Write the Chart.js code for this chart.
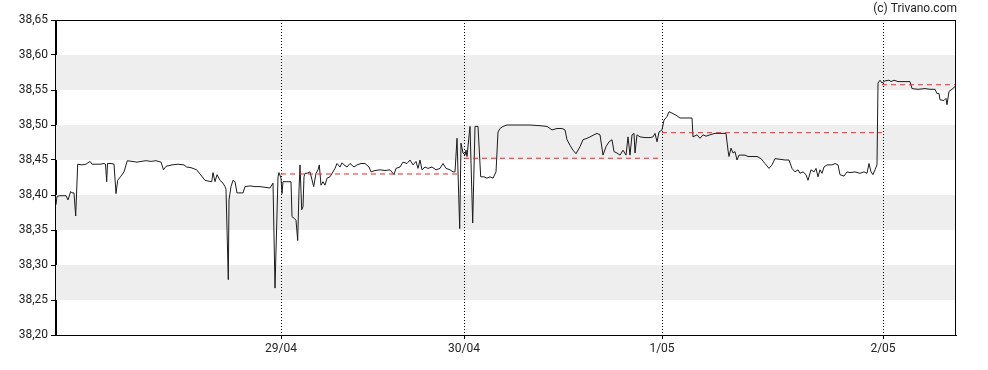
<!DOCTYPE html>
<html>
<head>
<meta charset="utf-8">
<script src="https://cdn.jsdelivr.net/npm/chart.js@4.4.1/dist/chart.umd.min.js"></script>
<style>
  html, body { margin: 0; padding: 0; background: #fff; }
  #wrap { width: 988px; height: 370px; }
</style>
</head>
<body>
<div id="wrap"><canvas id="chart" width="988" height="370"></canvas></div>
<script>
// position along the trading axis (sessions are not equally long)
const times = [
  0, 1, 4, 7, 10, 12, 14.7, 16, 18, 19.7, 21.7, 26, 30, 34, 36, 40, 44, 48, 49.5, 50.7, 51.5, 55, 58,
  60, 61.7, 65, 68, 71.3, 76, 81, 85, 90, 95, 100, 105, 107.5, 110, 116, 122, 128, 130.7, 135, 140.7,
  144, 149, 152, 155.7, 157, 159, 161, 164, 167, 169, 170, 172.3, 173, 175, 177, 179, 181, 187, 189,
  194, 199, 204, 209, 214, 217, 219, 219.7, 222, 223, 225, 226, 227, 229, 235, 236, 238, 240, 241.7,
  243, 244, 245.7, 247, 248, 249, 251, 254, 257.7, 260, 262, 263.3, 265, 267, 269, 271, 274, 279,
  281, 284, 286, 288, 291, 294, 298, 301, 305, 309, 313, 315, 319, 324, 329, 334, 338, 340, 344,
  347, 351, 354, 357, 360, 362, 364, 366, 369, 372, 376, 380, 384, 387, 390, 394, 397, 399, 401,
  403.7, 405, 407, 409, 410, 411, 414, 416.7, 419, 422, 424.7, 428, 431, 434, 437, 440, 442, 444,
  447, 451, 456, 464, 474, 484, 491, 496, 501, 506, 509, 511, 514, 517, 520, 524, 527, 531, 534,
  538, 541, 544, 547, 550, 553, 556, 558, 561, 564, 567, 570, 572, 574, 576, 578, 579, 581, 584,
  589, 594, 597, 599, 601, 603, 606, 608, 611, 613, 616, 620, 624, 630, 636, 637, 641, 644, 647,
  650, 654, 659, 664, 670, 672, 673, 675, 677, 679, 681, 683, 685, 689, 692, 696, 701, 705, 709,
  713, 716, 719, 724, 729, 733, 736, 739, 742, 744, 747, 750, 752, 755, 758, 760, 762, 764, 766,
  768, 771, 776, 779, 782, 784, 788, 791, 794, 799, 804, 808, 811, 813, 815, 817, 819, 821, 822,
  824, 826, 829, 833, 835, 838, 842, 847, 851, 854, 856, 862, 869, 874, 879, 881, 883, 884, 888,
  890, 891, 893, 896, 899
];
const prices = [
  38.386, 38.398, 38.399, 38.399, 38.399, 38.393, 38.405, 38.403, 38.403, 38.370, 38.444, 38.443,
  38.444, 38.448, 38.444, 38.444, 38.444, 38.445, 38.444, 38.419, 38.445, 38.445, 38.444,
  38.402, 38.421, 38.427, 38.433, 38.449, 38.448, 38.447, 38.448, 38.449, 38.448, 38.449, 38.447,
  38.436, 38.441, 38.443, 38.444, 38.443, 38.440, 38.439, 38.436,
  38.430, 38.421, 38.420, 38.419, 38.432, 38.419, 38.429, 38.421, 38.417, 38.412, 38.408, 38.279,
  38.393, 38.412, 38.421, 38.419, 38.403, 38.403, 38.412,
  38.413, 38.412, 38.412, 38.411, 38.410, 38.417, 38.267, 38.267, 38.426, 38.432, 38.424, 38.402,
  38.419, 38.419, 38.419, 38.369, 38.367, 38.364, 38.335,
  38.407, 38.443, 38.379, 38.383, 38.426, 38.431, 38.431, 38.433, 38.412, 38.431, 38.436, 38.443,
  38.414, 38.419, 38.414, 38.424, 38.426, 38.438,
  38.445, 38.440, 38.446, 38.443, 38.440, 38.445, 38.440, 38.443, 38.445, 38.445, 38.440, 38.433,
  38.435, 38.436, 38.435, 38.436, 38.429, 38.438, 38.440,
  38.447, 38.445, 38.450, 38.443, 38.448, 38.438, 38.450, 38.436, 38.440, 38.438, 38.440, 38.436,
  38.438, 38.445, 38.438, 38.436, 38.433, 38.433, 38.481,
  38.352, 38.474, 38.460, 38.457, 38.464, 38.455, 38.498, 38.360, 38.498, 38.498, 38.426, 38.426,
  38.424, 38.426, 38.424, 38.433, 38.490, 38.495,
  38.498, 38.500, 38.500, 38.500, 38.500, 38.499, 38.498, 38.493, 38.495, 38.495, 38.493, 38.479,
  38.471, 38.464, 38.459, 38.469, 38.479, 38.481, 38.483,
  38.486, 38.488, 38.486, 38.457, 38.469, 38.476, 38.479, 38.462, 38.460, 38.457, 38.464, 38.457,
  38.483, 38.457, 38.486, 38.488, 38.460, 38.486, 38.483,
  38.482, 38.482, 38.483, 38.488, 38.476, 38.490, 38.493, 38.507, 38.512, 38.519, 38.517, 38.514,
  38.510, 38.510, 38.510, 38.483, 38.486, 38.481, 38.486,
  38.484, 38.486, 38.488, 38.488, 38.488, 38.464, 38.455, 38.467, 38.460, 38.462, 38.450, 38.457,
  38.457, 38.457, 38.455, 38.455, 38.455, 38.452, 38.445,
  38.438, 38.443, 38.452, 38.451, 38.450, 38.450, 38.438, 38.433, 38.436, 38.431, 38.433, 38.429,
  38.421, 38.436, 38.433, 38.438, 38.426, 38.436, 38.431,
  38.440, 38.443, 38.443, 38.445, 38.443, 38.429, 38.427, 38.433, 38.432, 38.433, 38.431, 38.433,
  38.431, 38.445, 38.433, 38.429, 38.436, 38.443, 38.560,
  38.564, 38.560, 38.563, 38.564, 38.562, 38.564, 38.562, 38.562, 38.562, 38.562, 38.552, 38.551,
  38.552, 38.551, 38.551, 38.545, 38.545, 38.536, 38.535,
  38.538, 38.529, 38.548, 38.551, 38.555
];

// session starts and the reference (previous close) level per session
const dayTicks = [225, 408, 606, 827];
const dayLabels = ['29/04', '30/04', '1/05', '2/05'];
const refStart = [225, 408, 606, 826];
const refEnd = [402, 606, 826, 900];
const refLevel = [38.430, 38.4525, 38.489, 38.5575];

// shaded price bands and y axis ticks
const bandLow = [38.55, 38.45, 38.35, 38.25];
const bandHigh = [38.60, 38.50, 38.40, 38.30];
const yMin = 38.20, yMax = 38.65, yStep = 0.05;

const pricePoints = times.map((t, i) => ({ x: t, y: prices[i] }));
const refSets = refLevel.map((v, i) => ({
    data: [{ x: refStart[i], y: v }, { x: refEnd[i], y: v }],
    borderColor: '#ff2020',
    borderWidth: 1,
    borderDash: [5, 4],
    pointRadius: 0,
    order: 0
}));

const decor = {
    id: 'decor',
    beforeDatasetsDraw(chart){
        const { ctx, chartArea: a, scales: { x, y } } = chart;
        ctx.save();
        ctx.fillStyle = '#eeeeee';
        bandLow.forEach((lo, i) => {
            const top = y.getPixelForValue(bandHigh[i]);
            const bot = y.getPixelForValue(lo);
            ctx.fillRect(a.left, top, a.right - a.left, bot - top);
        });
        // dotted session separators
        ctx.strokeStyle = '#000';
        ctx.lineWidth = 1;
        ctx.setLineDash([1, 2]);
        dayTicks.forEach(t => {
            const px = Math.round(x.getPixelForValue(t)) + 0.5;
            ctx.beginPath();
            ctx.moveTo(px, a.top);
            ctx.lineTo(px, a.bottom);
            ctx.stroke();
        });
        ctx.restore();
    },
    afterDraw(chart){
        const { ctx, chartArea: a } = chart;
        ctx.save();
        ctx.strokeStyle = '#000';
        ctx.lineWidth = 1;
        ctx.strokeRect(Math.round(a.left) - 0.5, Math.round(a.top) + 0.5,
            Math.round(a.right - a.left), Math.round(a.bottom - a.top));
        ctx.fillStyle = '#222';
        ctx.font = '12px Roboto';
        ctx.textAlign = 'right';
        ctx.textBaseline = 'middle';
        ctx.fillText('(c) Trivano.com', a.right + 1, 9);
        ctx.restore();
    }
};

new Chart(document.getElementById('chart'), {
    type: 'line',
    data: {
        datasets: [
            { data: pricePoints, borderColor: '#1c1c1c', borderWidth: 1, pointRadius: 0, tension: 0, order: 1 },
            ...refSets
        ]
    },
    options: {
        responsive: false,
        animation: false,
        events: [],
        layout: { padding: { top: 20, right: 32, left: 0, bottom: 0 } },
        plugins: { legend: { display: false }, tooltip: { enabled: false } },
        scales: {
            x: {
                type: 'linear',
                min: 0,
                max: 900,
                afterBuildTicks: s => { s.ticks = dayTicks.map(v => ({ value: v })); },
                afterFit: s => { s.height = 35; },
                grid: { drawOnChartArea: false, color: '#000', tickLength: 4 },
                border: { color: '#000' },
                ticks: {
                    autoSkip: false,
                    maxRotation: 0,
                    padding: 3,
                    color: '#222',
                    font: { family: 'Roboto', size: 12 },
                    callback: v => dayLabels[dayTicks.indexOf(v)] || ''
                }
            },
            y: {
                min: yMin,
                max: yMax,
                afterFit: s => { s.width = 56; },
                afterBuildTicks: s => {
                    const t = [];
                    for (let v = yMin; v <= yMax + 1e-9; v += yStep) t.push({ value: +v.toFixed(2) });
                    s.ticks = t;
                },
                grid: { drawOnChartArea: false, color: '#000', tickLength: 5 },
                border: { color: '#000' },
                ticks: {
                    padding: 3,
                    color: '#222',
                    font: { family: 'Roboto', size: 12 },
                    callback: v => v.toFixed(2).replace('.', ',')
                }
            }
        }
    },
    plugins: [decor]
});
</script>
</body>
</html>
